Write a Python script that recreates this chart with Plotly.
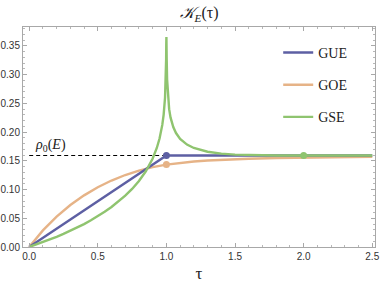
import plotly.graph_objects as go

# ---- data ----
rho0 = 0.159

gue_tau = [0.0, 1.0, 2.5]
gue_k = [0.0, 0.159, 0.159]

goe_tau = [0.0, 0.05, 0.1, 0.2, 0.3, 0.4, 0.5, 0.6, 0.7, 0.8, 0.9, 1.0,
           1.1, 1.2, 1.3, 1.4, 1.5, 1.6, 1.8, 2.0, 2.2, 2.5]
goe_k = [0.0, 0.0151, 0.0289, 0.0529, 0.0730, 0.0898, 0.1039, 0.1156, 0.1252,
         0.1329, 0.1389, 0.1433, 0.1465, 0.1487, 0.1504, 0.1517, 0.1527,
         0.1535, 0.1547, 0.1556, 0.1562, 0.1568]

gse_tau = [0.0, 0.05, 0.1, 0.15, 0.2, 0.25, 0.3, 0.35, 0.4, 0.45, 0.5, 0.55,
           0.6, 0.65, 0.7, 0.75, 0.8, 0.85, 0.9, 0.93, 0.95, 0.97, 0.98, 0.99,
           0.995, 0.998, 0.999, 1.0, 1.001, 1.002, 1.005, 1.01, 1.02, 1.03,
           1.05, 1.07, 1.1, 1.15, 1.2, 1.3, 1.4, 1.5, 1.6, 1.7, 1.8, 1.9,
           2.0, 2.5]
gse_k = [0.0, 0.0041, 0.0084, 0.0129, 0.0177, 0.0227, 0.0281, 0.0338, 0.0399,
         0.0465, 0.0535, 0.0612, 0.0695, 0.0788, 0.0892, 0.1009, 0.1148,
         0.1317, 0.1539, 0.1722, 0.1887, 0.2123, 0.2303, 0.2599, 0.2887,
         0.3259, 0.3537, 0.365, 0.3544, 0.3272, 0.2916, 0.2652, 0.2397,
         0.2254, 0.2085, 0.1982, 0.1881, 0.1781, 0.1722, 0.1656, 0.1623,
         0.1606, 0.1597, 0.1593, 0.1591, 0.1590, 0.159, 0.159]

rho_line_tau = [0.0, 1.0]
rho_line_k = [rho0, rho0]

gue_pt = ([1.0], [0.159])
goe_pt = ([1.0], [0.1433])
gse_pt = ([2.0], [0.159])

x_ticks = [0.0, 0.5, 1.0, 1.5, 2.0, 2.5]
y_ticks = [0.00, 0.05, 0.10, 0.15, 0.20, 0.25, 0.30, 0.35]

C_GUE = "#5D5FA3"
C_GOE = "#E6B387"
C_GSE = "#8FC46F"

fig = go.Figure()

fig.add_trace(go.Scatter(x=rho_line_tau, y=rho_line_k, mode="lines",
                         line=dict(color="black", width=1.1, dash="4px,3px"),
                         showlegend=False, hoverinfo="skip"))

fig.add_trace(go.Scatter(x=goe_tau, y=goe_k, mode="lines", name="GOE",
                         line=dict(color=C_GOE, width=2.4), legendrank=2,
                         legendgroup="b"))
fig.add_trace(go.Scatter(x=gue_tau, y=gue_k, mode="lines", name="GUE",
                         line=dict(color=C_GUE, width=2.4), legendrank=1,
                         legendgroup="a"))
fig.add_trace(go.Scatter(x=gse_tau, y=gse_k, mode="lines", name="GSE",
                         line=dict(color=C_GSE, width=2.4), legendrank=3,
                         legendgroup="c"))

for (px, py), c in [(gue_pt, C_GUE), (goe_pt, C_GOE), (gse_pt, C_GSE)]:
    fig.add_trace(go.Scatter(x=px, y=py, mode="markers",
                             marker=dict(color=c, size=7),
                             showlegend=False, hoverinfo="skip"))

axis_common = dict(
    showgrid=False, zeroline=False, showline=True, linecolor="#a8a8a8",
    linewidth=1, mirror="allticks", ticks="inside", ticklen=4,
    tickcolor="#a8a8a8", automargin=False,
    tickfont=dict(family="Liberation Sans, Arial", size=10, color="#333333"),
)

fig.update_xaxes(range=[-0.045, 2.52], tickvals=x_ticks,
                 ticktext=[f"{v:.1f}" for v in x_ticks],
                 minor=dict(ticks="inside", ticklen=2, dtick=0.1,
                            tickcolor="#b8b8b8"),
                 title=dict(text="τ", font=dict(family="Liberation Serif",
                                                 size=17, color="#222"),
                            standoff=6),
                 **axis_common)
fig.update_yaxes(range=[0, 0.3826], tickvals=y_ticks,
                 ticktext=[f"{v:.2f}" for v in y_ticks],
                 minor=dict(ticks="inside", ticklen=2, dtick=0.01,
                            tickcolor="#b8b8b8"),
                 **axis_common)

fig.add_annotation(x=0.03, y=0.177, xref="x", yref="y", xanchor="left",
                   yanchor="middle", showarrow=False,
                   text="<i>ρ</i><sub>0</sub>(<i>E</i>)",
                   font=dict(family="Liberation Serif", size=14, color="#222"))

fig.update_layout(
    width=381, height=289,
    margin=dict(l=23, r=6, t=27, b=42),
    paper_bgcolor="white", plot_bgcolor="white",
    title=dict(text="<i>𝒦</i><sub><i>E</i></sub>(τ)", x=0.5, xref="paper",
               y=0.975, yref="container", yanchor="top",
               font=dict(family="Liberation Serif, DejaVu Serif", size=16,
                         color="#222")),
    legend=dict(x=0.725, y=0.955, xanchor="left", yanchor="top",
                bgcolor="rgba(0,0,0,0)", tracegroupgap=11,
                font=dict(family="Liberation Serif", size=14, color="#222")),
    showlegend=True,
)

fig.write_html("out.html",
               config={"displayModeBar": False},
               post_script="document.body.style.margin='0';"
                           "document.body.style.overflow='hidden';")
